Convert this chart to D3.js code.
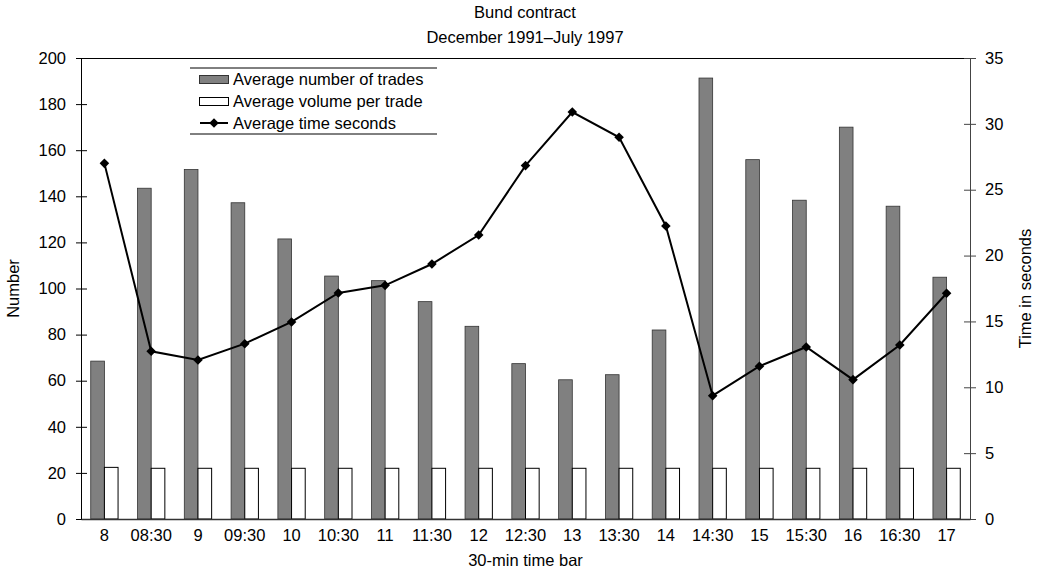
<!DOCTYPE html>
<html>
<head>
<meta charset="utf-8">
<script src="https://cdn.jsdelivr.net/npm/d3@7"></script>
<style>
    body { margin: 0; background: #fff; }
    svg text { font-family: "Liberation Sans", Arial, Helvetica, sans-serif; fill: #000; }
</style>
</head>
<body>
<div id="chart"></div>
<script>
// categories and series
var categories = ["8", "08:30", "9", "09:30", "10", "10:30", "11", "11:30", "12", "12:30",
                  "13", "13:30", "14", "14:30", "15", "15:30", "16", "16:30", "17"];
var avgTrades = [68.5, 143.5, 151.6, 137.2, 121.5, 105.4, 103.4, 94.3, 83.6, 67.4,
                 60.4, 62.6, 82.0, 191.3, 155.9, 138.3, 170, 135.7, 104.9];
var avgVolume = [22.4, 22, 22, 22, 22, 22, 22, 22, 22, 22,
                 22, 22, 22, 22, 22, 22, 22, 22, 22];
var avgTime = [27.0, 12.73, 12.07, 13.31, 14.96, 17.16, 17.74, 19.36, 21.56, 26.83,
               30.9, 28.98, 22.25, 9.36, 11.6, 13.06, 10.58, 13.21, 17.14];
var leftTicks = [0, 20, 40, 60, 80, 100, 120, 140, 160, 180, 200];
var rightTicks = [0, 5, 10, 15, 20, 25, 30, 35];
var legendLabels = ["Average number of trades", "Average volume per trade", "Average time seconds"];

var W = 1040, H = 572;
var margin = {top: 58, right: 70, bottom: 53, left: 81};
var width = W - margin.left - margin.right;
var height = H - margin.top - margin.bottom;
var fs = "16.5px";

var svg = d3.select("#chart").append("svg")
    .attr("width", W)
    .attr("height", H);

var g = svg.append("g")
    .attr("transform", "translate(" + margin.left + "," + margin.top + ")");

// scales
var x = d3.scaleBand().domain(categories).range([0, width]).padding(0);
var yL = d3.scaleLinear().domain([0, 200]).range([height, 0]);
var yR = d3.scaleLinear().domain([0, 35]).range([height, 0]);
var barW = x.bandwidth() * 0.292;

// gray bars (number of trades)
g.selectAll(".trades").data(avgTrades).enter().append("rect")
    .attr("class", "trades")
    .attr("x", function(d, i) { return x(categories[i]) + x.bandwidth() / 2 - barW; })
    .attr("y", function(d) { return yL(d); })
    .attr("width", barW)
    .attr("height", function(d) { return height - yL(d); })
    .attr("fill", "#808080")
    .attr("stroke", "#333")
    .attr("stroke-width", 0.8);

// white bars (volume per trade)
g.selectAll(".volume").data(avgVolume).enter().append("rect")
    .attr("class", "volume")
    .attr("x", function(d, i) { return x(categories[i]) + x.bandwidth() / 2; })
    .attr("y", function(d) { return yL(d); })
    .attr("width", barW)
    .attr("height", function(d) { return height - yL(d); })
    .attr("fill", "#fff")
    .attr("stroke", "#000")
    .attr("stroke-width", 1);

// top border
g.append("line")
    .attr("x1", 0).attr("x2", width)
    .attr("y1", 0.5).attr("y2", 0.5)
    .attr("stroke", "#000");

// left axis
var leftAxis = g.append("g")
    .call(d3.axisLeft(yL).tickValues(leftTicks).tickSize(5).tickPadding(10));
leftAxis.select(".domain").attr("stroke", "#000");
leftAxis.selectAll(".tick line").attr("x2", 6).attr("x1", -5);
leftAxis.selectAll("text").style("font-size", fs);

// right axis
var rightAxis = g.append("g")
    .attr("transform", "translate(" + width + ",0)")
    .call(d3.axisRight(yR).tickValues(rightTicks).tickSize(6).tickPadding(9));
rightAxis.select(".domain").attr("stroke", "#444");
rightAxis.selectAll(".tick line").attr("x1", -6).attr("x2", 6).attr("stroke", "#444");
rightAxis.selectAll("text").style("font-size", fs);

// bottom axis
var bottomAxis = g.append("g")
    .attr("transform", "translate(0," + height + ")")
    .call(d3.axisBottom(x).tickSize(0).tickPadding(10));
bottomAxis.select(".domain").attr("stroke", "#333").attr("stroke-width", 1.5);
bottomAxis.selectAll("text").style("font-size", fs);

// time line
var line = d3.line()
    .x(function(d, i) { return x(categories[i]) + x.bandwidth() / 2; })
    .y(function(d) { return yR(d); });

g.append("path")
    .datum(avgTime)
    .attr("d", line)
    .attr("fill", "none")
    .attr("stroke", "#000")
    .attr("stroke-width", 2);

var marker = d3.symbol().type(d3.symbolSquare).size(46);
g.selectAll(".pt").data(avgTime).enter().append("path")
    .attr("class", "pt")
    .attr("d", marker)
    .attr("transform", function(d, i) {
        return "translate(" + (x(categories[i]) + x.bandwidth() / 2) + "," + yR(d) + ") rotate(45)";
    })
    .attr("fill", "#000");

// titles
svg.append("text").attr("x", 525).attr("y", 18).attr("text-anchor", "middle")
    .style("font-size", fs).text("Bund contract");
svg.append("text").attr("x", 525).attr("y", 43).attr("text-anchor", "middle")
    .style("font-size", fs).text("December 1991\u2013July 1997");

// axis titles
svg.append("text").attr("x", margin.left + width / 2).attr("y", 566).attr("text-anchor", "middle")
    .style("font-size", fs).text("30-min time bar");
svg.append("text").attr("transform", "translate(19," + (margin.top + height / 2) + ") rotate(-90)")
    .attr("text-anchor", "middle").style("font-size", fs).text("Number");
svg.append("text").attr("transform", "translate(1031," + (margin.top + height / 2) + ") rotate(-90)")
    .attr("text-anchor", "middle").style("font-size", fs).text("Time in seconds");

// legend
var legend = svg.append("g").attr("transform", "translate(190,68)");
legend.append("line").attr("x1", 0).attr("x2", 247).attr("y1", 0).attr("y2", 0).attr("stroke", "#000");
legend.append("line").attr("x1", 0).attr("x2", 247).attr("y1", 66).attr("y2", 66).attr("stroke", "#000");

var rows = legend.selectAll(".row").data(legendLabels).enter().append("g")
    .attr("transform", function(d, i) { return "translate(0," + (11 + i * 22) + ")"; });

rows.each(function(d, i) {
    var r = d3.select(this);
    if (i < 2) {
        r.append("rect").attr("x", 9.5).attr("y", -3.5).attr("width", 29).attr("height", 8)
            .attr("fill", i === 0 ? "#808080" : "#fff")
            .attr("stroke", i === 0 ? "#333" : "#000");
    } else {
        r.append("line").attr("x1", 10).attr("x2", 38).attr("y1", 0).attr("y2", 0)
            .attr("stroke", "#000").attr("stroke-width", 2);
        r.append("path").attr("d", marker).attr("transform", "translate(24,0) rotate(45)");
    }
    r.append("text").attr("x", 43).attr("y", 6).style("font-size", fs).text(d);
});
</script>
</body>
</html>
